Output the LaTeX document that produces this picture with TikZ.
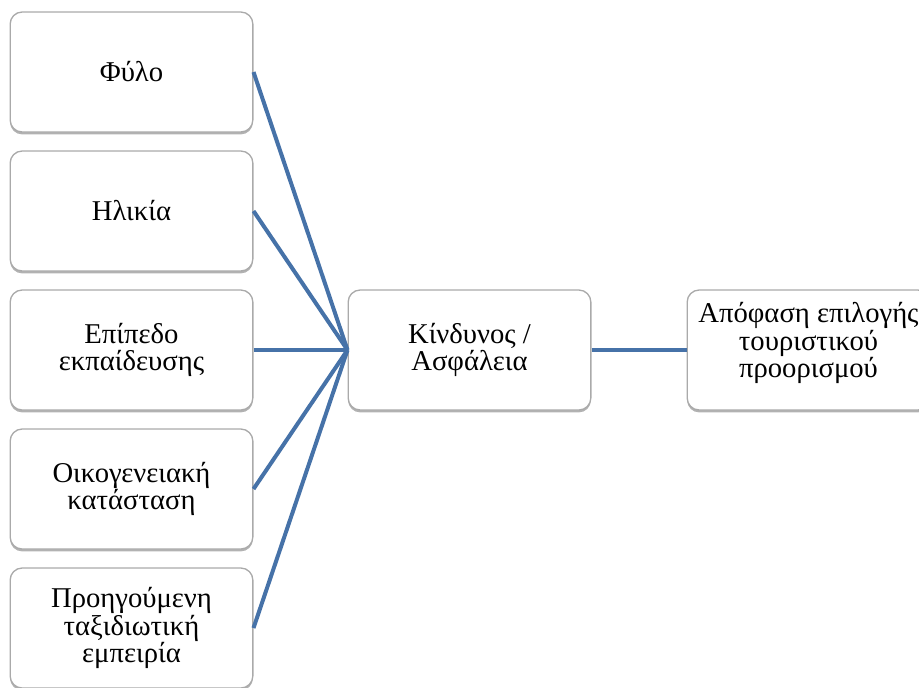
\documentclass[tikz,border=0pt]{standalone}
\usepackage{fontspec}
\setmainfont{Liberation Serif}
\usetikzlibrary{shadows}
\definecolor{linkblue}{RGB}{70,114,168}
\definecolor{boxedge}{RGB}{170,170,170}
\tikzset{
  factor/.style={draw=boxedge, line width=1pt, fill=white, rounded corners=9,
    minimum width=182pt, minimum height=90pt, align=center,
    font=\fontsize{21.5}{20.6}\selectfont,
    drop shadow={shadow xshift=0pt, shadow yshift=-1.8pt, opacity=0.5, fill=black!60}},
  link/.style={linkblue, line width=3pt}
}
\begin{document}
\begin{tikzpicture}[x=0.75pt, y=-0.75pt]
\clip (0,0) rectangle (919,687);
\useasboundingbox (0,0) rectangle (919,687);
% left column
\node[factor] at (131.5, 72) (fylo) {Φύλο};
\node[factor] at (131.5, 211) (ilikia) {Ηλικία};
\node[factor] at (131.5, 350) (ekp) {Επίπεδο\\εκπαίδευσης};
\node[factor] at (131.5, 489) (oik) {Οικογενειακή\\κατάσταση};
\node[factor] at (131.5, 628) (emp) {Προηγούμενη\\ταξιδιωτική\\εμπειρία};
% middle and right
\node[factor] at (469.5, 350) (kind) {Κίνδυνος /\\Ασφάλεια};
\node[factor] at (808.5, 350) (apof) {};
\node[align=center, font=\fontsize{21.5}{20.6}\selectfont] at (808.5, 343) (apoftxt) {Απόφαση επιλογής\\τουριστικού\\προορισμού};
\draw[link] (fylo.east) -- (kind.west);
\draw[link] (ilikia.east) -- (kind.west);
\draw[link] (ekp.east) -- (kind.west);
\draw[link] (oik.east) -- (kind.west);
\draw[link] (emp.east) -- (kind.west);
\draw[link] (kind.east) -- (apof.west);
\end{tikzpicture}
\end{document}
